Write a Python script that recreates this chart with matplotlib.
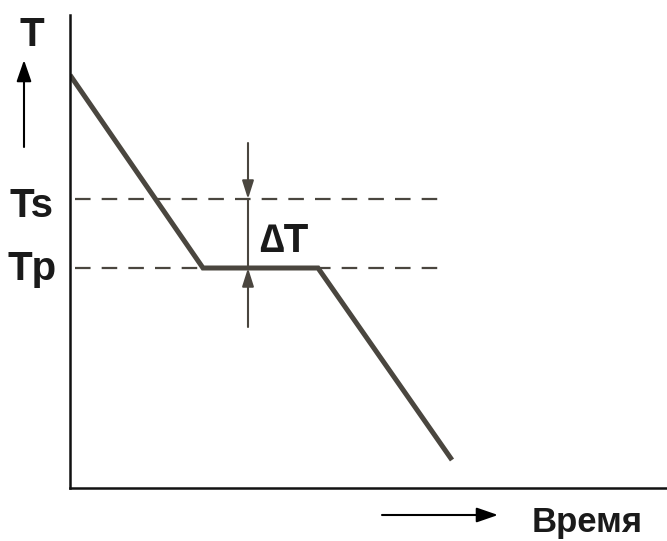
import matplotlib.pyplot as plt

# cooling curve (time, temperature), arbitrary units
time = [0, 133, 248, 382]
temp = [413, 220, 220, 28]
Ts = 289
Tp = 220
dashed_x = [5, 375]
dT_x = 178          # where the delta-T arrows sit
dT_top = 345        # tail of upper arrow
dT_bottom = 161     # tail of lower arrow

W, H = 667, 541
line_col = '#4a463f'
plt.rcParams['font.family'] = ['Liberation Sans', 'DejaVu Sans']

fig = plt.figure(figsize=(W / 100, H / 100), dpi=100)
ax = fig.add_axes([70 / W, 53 / H, (W - 70) / W, (488 - 15) / H])
ax.set_xlim(0, W - 70)
ax.set_ylim(0, 473)
for s in ['top', 'right']:
    ax.spines[s].set_visible(False)
for s in ['left', 'bottom']:
    ax.spines[s].set_linewidth(1.8)
    ax.spines[s].set_color('#111111')
ax.set_xticks([])
ax.set_yticks([])

# dashed reference levels
for lvl in [Ts, Tp]:
    ax.plot(dashed_x, [lvl, lvl], color=line_col, lw=1.6, ls=(0, (7, 5)))

# cooling curve
ax.plot(time, temp, color=line_col, lw=3.6, solid_capstyle='butt',
        solid_joinstyle='miter')

# delta T markers
ax.plot([dT_x, dT_x], [Tp, Ts], color=line_col, lw=1.5)
arr = dict(arrowstyle='-|>,head_length=1.1,head_width=0.35', color=line_col,
           lw=1.5, shrinkA=0, shrinkB=0)
ax.annotate('', xy=(dT_x, Ts), xytext=(dT_x, dT_top), arrowprops=arr)
ax.annotate('', xy=(dT_x, Tp), xytext=(dT_x, dT_bottom), arrowprops=arr)
ax.text(dT_x + 11, Tp + 16, '∆T', fontsize=29, fontweight='bold',
        ha='left', va='baseline', color='#1a1a1a')


def fx(px):
    return px / W


def fy(py):
    return 1 - py / H


txt = dict(fontsize=29, fontweight='bold', color='#1a1a1a')
fig.text(fx(32), fy(46), 'T', ha='center', va='baseline', **txt)
fig.text(fx(31), fy(217), 'Ts', ha='center', va='baseline', **txt)
fig.text(fx(32), fy(280), 'Tp', ha='center', va='baseline', **txt)
fig.text(fx(532), fy(532), 'Время', ha='left', va='baseline',
         fontsize=25, fontweight='bold', color='#1a1a1a')

# axis direction arrows
big = dict(arrowstyle='-|>,head_length=1.3,head_width=0.45', color='black',
           lw=1.5, shrinkA=0, shrinkB=0)
ax.annotate('', xy=(fx(24), fy(60)), xytext=(fx(24), fy(147)),
            xycoords='figure fraction', textcoords='figure fraction', arrowprops=big)
ax.annotate('', xy=(fx(498), fy(515)), xytext=(fx(382), fy(515)),
            xycoords='figure fraction', textcoords='figure fraction', arrowprops=big)

fig.savefig('out.png', dpi=100)
